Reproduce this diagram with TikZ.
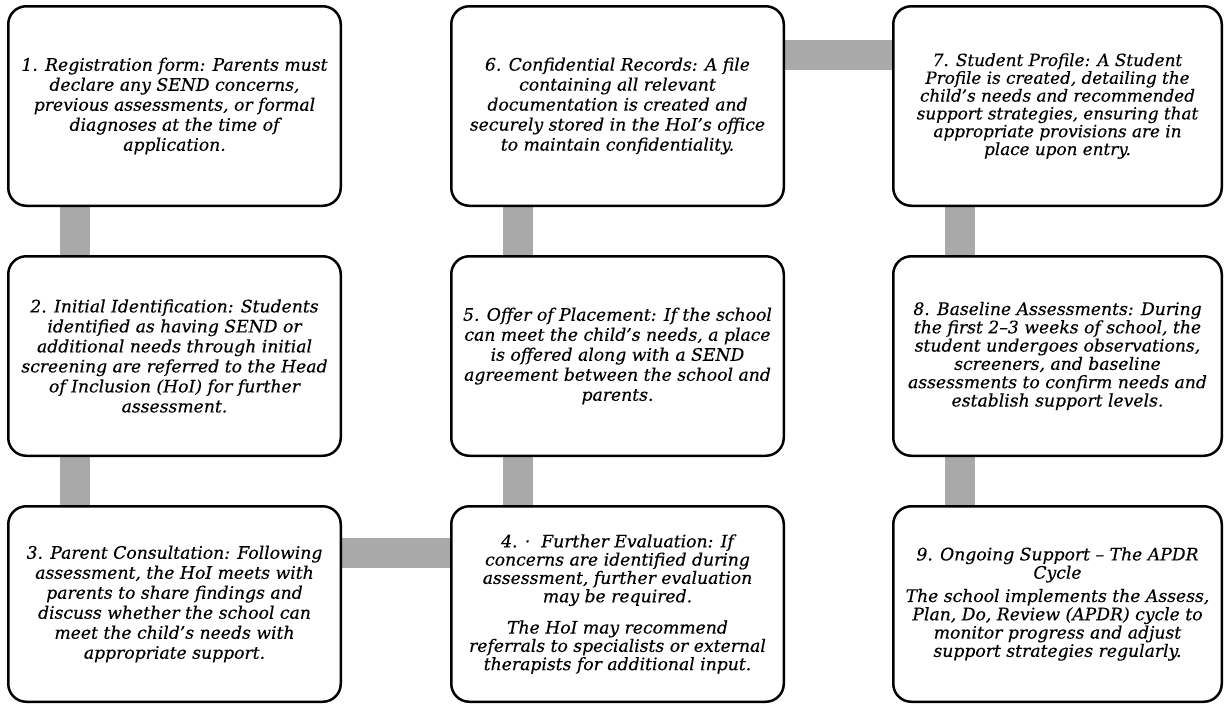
\documentclass[tikz,border=0pt]{standalone}
\usepackage{fontspec}
\setmainfont{DejaVu Serif}[FakeBold=0.35]
\usetikzlibrary{backgrounds}
\definecolor{barg}{HTML}{A9A9A9}
\tikzset{
  box/.style={draw=black, line width=2.5pt, rounded corners=18pt, fill=white,
    minimum width=332.5pt, minimum height=199.5pt, align=center, inner sep=0pt,
    font=\itshape\fontsize{17.2}{20}\selectfont},
  boxsmall/.style={box, font=\itshape\fontsize{17.2}{18.3}\selectfont},
  boxtiny/.style={box, font=\itshape\fontsize{16.8}{17.8}\selectfont},
  bar/.style={draw=barg, line width=30pt},
}
\begin{document}
\begin{tikzpicture}[x=1pt,y=-1pt]
\useasboundingbox (0,0) rectangle (1225,705);
\node[box] (b1) at (174.5,106) {1. Registration form: Parents must\\declare any SEND concerns,\\previous assessments, or formal\\diagnoses at the time of\\application.};
\node[box] (b2) at (174.5,356) {2. Initial Identification: Students\\identified as having SEND or\\additional needs through initial\\screening are referred to the Head\\of Inclusion (HoI) for further\\assessment.};
\node[box, minimum height=195.5pt] (b3) at (174.5,604) {3. Parent Consultation: Following\\assessment, the HoI meets with\\parents to share findings and\\discuss whether the school can\\meet the child’s needs with\\appropriate support.};
\node[boxsmall, minimum height=195.5pt] (b4) at (617.5,604) {4. ·\ \ Further Evaluation: If\\concerns are identified during\\assessment, further evaluation\\may be required.\\[13pt]The HoI may recommend\\referrals to specialists or external\\therapists for additional input.};
\node[box] (b5) at (617.5,356) {5. Offer of Placement: If the school\\can meet the child’s needs, a place\\is offered along with a SEND\\agreement between the school and\\parents.};
\node[box] (b6) at (617.5,106) {6. Confidential Records: A file\\containing all relevant\\documentation is created and\\securely stored in the HoI’s office\\to maintain confidentiality.};
\node[boxtiny, minimum width=328.5pt] (b7) at (1057.5,106) {7. Student Profile: A Student\\Profile is created, detailing the\\child’s needs and recommended\\support strategies, ensuring that\\appropriate provisions are in\\place upon entry.};
\node[boxsmall, minimum width=328.5pt] (b8) at (1057.5,356) {8. Baseline Assessments: During\\the first 2–3 weeks of school, the\\student undergoes observations,\\screeners, and baseline\\assessments to confirm needs and\\establish support levels.};
\node[boxsmall, minimum width=328.5pt, minimum height=195.5pt] (b9) at (1057.5,604) {9. Ongoing Support – The APDR\\Cycle\\[5pt]The school implements the Assess,\\Plan, Do, Review (APDR) cycle to\\monitor progress and adjust\\support strategies regularly.};
\begin{pgfonlayer}{background}
\draw[bar] ([xshift=-99.5pt]b1.south) -- ([xshift=-99.5pt]b2.north);
\draw[bar] ([xshift=-99.5pt]b2.south) -- ([xshift=-99.5pt]b3.north);
\draw[bar] ([yshift=51pt]b3.east) -- ([yshift=51pt]b4.west);
\draw[bar] ([xshift=-99.5pt]b4.north) -- ([xshift=-99.5pt]b5.south);
\draw[bar] ([xshift=-99.5pt]b5.north) -- ([xshift=-99.5pt]b6.south);
\draw[bar] ([yshift=51pt]b6.east) -- ([yshift=51pt]b7.west);
\draw[bar] ([xshift=-97.5pt]b7.south) -- ([xshift=-97.5pt]b8.north);
\draw[bar] ([xshift=-97.5pt]b8.south) -- ([xshift=-97.5pt]b9.north);
\end{pgfonlayer}
\end{tikzpicture}
\end{document}
